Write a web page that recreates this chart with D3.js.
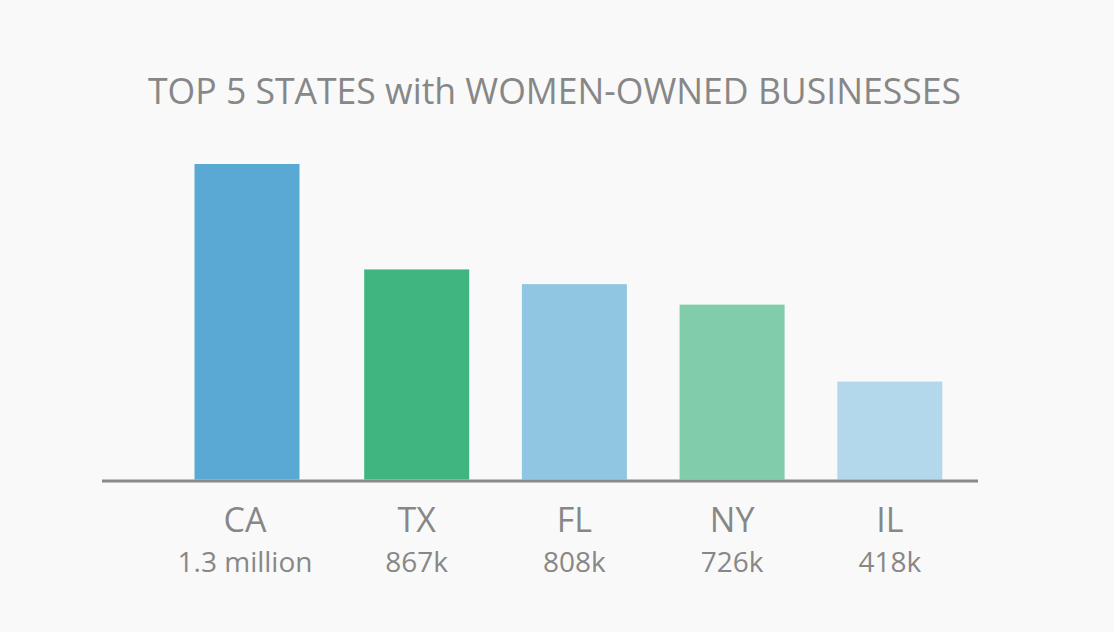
<!DOCTYPE html>
<html>
<head>
<meta charset="utf-8">
<script src="https://cdn.jsdelivr.net/npm/d3@7"></script>
<style>
  html, body { margin: 0; padding: 0; background: #f9f9f9; }
  svg { display: block; }
  text { font-family: "Open Sans", sans-serif; fill: #878787; }
</style>
</head>
<body>
<svg id="chart" width="1114" height="632"></svg>
<script>
const title = "TOP 5 STATES with WOMEN-OWNED BUSINESSES";
const states = ["CA", "TX", "FL", "NY", "IL"];
const values = [1289, 867, 808, 726, 418]; // thousands
const valueLabels = ["1.3 million", "867k", "808k", "726k", "418k"];
const colors = ["#59a9d4", "#40b580", "#90c6e2", "#81cdaa", "#b3d8eb"];

const W = 1114, H = 632;
const svg = d3.select("#chart");
svg.append("rect").attr("width", W).attr("height", H).attr("fill", "#f9f9f9");

const barW = 105, gap = 52.7, startX = 178.5;
const axisY = 481, axisX0 = 102, axisX1 = 978;

// measure value label widths to lay out columns (flex-like)
const tmp = svg.append("g");
const widths = valueLabels.map(t => {
  const n = tmp.append("text").style("font-size", "28px").text(t).node();
  return Math.min(n.getComputedTextLength(), 133);
});
tmp.remove();
const centers = [];
let cx = startX;
widths.forEach(w => {
  const cw = Math.max(barW, w);
  centers.push(cx + cw / 2);
  cx += cw + gap;
});
const x = d3.scaleOrdinal().domain(states).range(centers);
const y = d3.scaleLinear().domain([0, 1289]).range([486, 164]);

const data = states.map((s, i) => ({ s, v: values[i], label: valueLabels[i], c: colors[i] }));

svg.append("text")
  .attr("x", 554.5).attr("y", 103.5)
  .attr("text-anchor", "middle")
  .attr("textLength", 813)
  .attr("lengthAdjust", "spacingAndGlyphs")
  .style("font-size", "36px")
  .text(title);

svg.selectAll("rect.bar").data(data).join("rect")
  .attr("class", "bar")
  .attr("x", d => x(d.s) - barW / 2 + (d.s === "CA" ? 2 : 0))
  .attr("width", barW)
  .attr("y", d => y(d.v))
  .attr("height", d => (axisY - 1.5) - y(d.v))
  .attr("fill", d => d.c);

svg.append("line")
  .attr("x1", axisX0).attr("x2", axisX1)
  .attr("y1", axisY).attr("y2", axisY)
  .attr("stroke", "#8a8a8a").attr("stroke-width", 3);

svg.selectAll("text.cat").data(data).join("text")
  .attr("class", "cat")
  .attr("x", d => x(d.s)).attr("y", 532)
  .attr("text-anchor", "middle")
  .style("font-size", "34px")
  .text(d => d.s);

svg.selectAll("text.val").data(data).join("text")
  .attr("class", "val")
  .attr("x", d => x(d.s)).attr("y", 572)
  .attr("text-anchor", "middle")
  .style("font-size", "28px")
  .text(d => d.label);
</script>
</body>
</html>
